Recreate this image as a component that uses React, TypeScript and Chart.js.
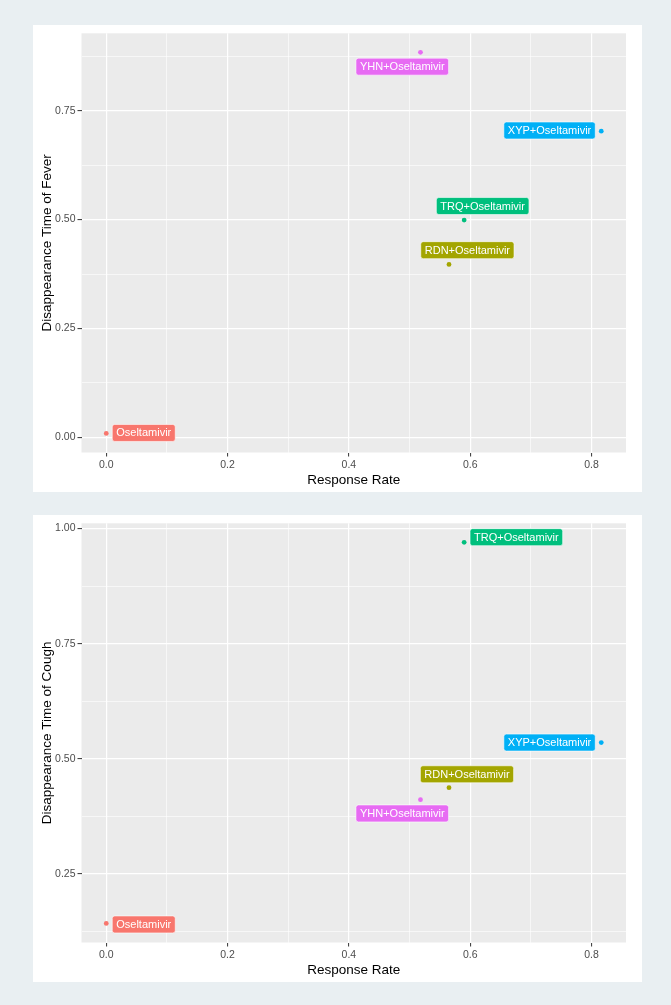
import React, { useEffect, useRef } from "react";
import { Chart, registerables } from "chart.js";

Chart.register(...registerables);

// ---------- data ----------
const categories = [
  "Oseltamivir",
  "RDN+Oseltamivir",
  "TRQ+Oseltamivir",
  "XYP+Oseltamivir",
  "YHN+Oseltamivir",
];
const responseRate = [0.0, 0.565, 0.59, 0.816, 0.518];
const feverTime = [0.009, 0.397, 0.499, 0.703, 0.884];
const coughTime = [0.142, 0.437, 0.97, 0.535, 0.411];

const xMajorTicks = [0, 0.2, 0.4, 0.6, 0.8];
const xMinorTicks = [0.1, 0.3, 0.5, 0.7];
const feverMajorTicks = [0, 0.25, 0.5, 0.75];
const feverMinorTicks = [0.125, 0.375, 0.625, 0.875];
const coughMajorTicks = [0.25, 0.5, 0.75, 1.0];
const coughMinorTicks = [0.125, 0.375, 0.625, 0.875];

// ---------- styles / layout ----------
const groupColors = ["#F8766D", "#A3A500", "#00BF7D", "#00B0F6", "#E76BF3"];
// label box centre offsets (px) relative to the point, mimicking ggrepel placement
const feverLabelOffsets = [
  [37.5, -0.5],
  [18.4, -14.3],
  [18.5, -14],
  [-51.7, -0.7],
  [-18.2, 14.3],
];
const coughLabelOffsets = [
  [37.5, 1],
  [18, -13.4],
  [52.2, -5.2],
  [-51.7, 0],
  [-18.2, 13.8],
];

const FONT = "'Liberation Sans', Arial, Helvetica, sans-serif";
const PANEL_W = 609;
const PANEL_H = 467;

function expandRange(values: number[]) {
  const mn = Math.min(...values);
  const mx = Math.max(...values);
  const pad = (mx - mn) * 0.05;
  return { min: mn - pad, max: mx + pad };
}

function buildTicks(major: number[], minor: number[]) {
  const all = [
    ...major.map((v) => ({ value: v, minor: false })),
    ...minor.map((v) => ({ value: v, minor: true })),
  ];
  all.sort((a, b) => a.value - b.value);
  return all;
}

const bgPlugin = {
  id: "panelBg",
  beforeDraw(chart: any) {
    const { ctx, chartArea } = chart;
    ctx.save();
    ctx.fillStyle = "#EBEBEB";
    ctx.fillRect(
      chartArea.left,
      chartArea.top,
      chartArea.right - chartArea.left,
      chartArea.bottom - chartArea.top
    );
    ctx.restore();
  },
};

function roundRect(ctx: CanvasRenderingContext2D, x: number, y: number, w: number, h: number, r: number) {
  ctx.beginPath();
  ctx.moveTo(x + r, y);
  ctx.lineTo(x + w - r, y);
  ctx.quadraticCurveTo(x + w, y, x + w, y + r);
  ctx.lineTo(x + w, y + h - r);
  ctx.quadraticCurveTo(x + w, y + h, x + w - r, y + h);
  ctx.lineTo(x + r, y + h);
  ctx.quadraticCurveTo(x, y + h, x, y + h - r);
  ctx.lineTo(x, y + r);
  ctx.quadraticCurveTo(x, y, x + r, y);
  ctx.closePath();
}

function makeLabelPlugin(offsets: number[][]) {
  return {
    id: "repelLabels",
    afterDatasetsDraw(chart: any) {
      const { ctx } = chart;
      const meta = chart.getDatasetMeta(0);
      ctx.save();
      ctx.font = `11px ${FONT}`;
      ctx.textAlign = "center";
      ctx.textBaseline = "middle";
      meta.data.forEach((pt: any, i: number) => {
        const text = categories[i];
        const tw = ctx.measureText(text).width;
        const w = tw + 8;
        const h = 17;
        const cx = pt.x + offsets[i][0];
        const cy = pt.y + offsets[i][1];
        roundRect(ctx, cx - w / 2, cy - h / 2, w, h, 2.5);
        ctx.fillStyle = groupColors[i];
        ctx.fill();
        ctx.lineWidth = 0.6;
        ctx.strokeStyle = "#ffffff";
        ctx.stroke();
        ctx.fillStyle = "#ffffff";
        ctx.fillText(text, cx, cy + 0.5);
      });
      ctx.restore();
    },
  };
}

function makeConfig(
  yValues: number[],
  yMajor: number[],
  yMinor: number[],
  yTitle: string,
  offsets: number[][]
): any {
  const xr = expandRange(responseRate);
  const yr = expandRange(yValues);
  const gridCommon = {
    color: "#ffffff",
    lineWidth: (c: any) => (c.tick && c.tick.minor ? 0.6 : 1.2),
    tickColor: (c: any) => (c.tick && c.tick.minor ? "rgba(0,0,0,0)" : "#333333"),
    tickWidth: 1,
    tickLength: 4,
    drawTicks: true,
    drawOnChartArea: true,
  };
  return {
    type: "scatter",
    data: {
      datasets: [
        {
          data: responseRate.map((x, i) => ({ x, y: yValues[i] })),
          pointBackgroundColor: groupColors,
          pointBorderColor: groupColors,
          pointBorderWidth: 0,
          pointRadius: 2.4,
          pointHoverRadius: 2.4,
        },
      ],
    },
    options: {
      responsive: false,
      animation: false,
      devicePixelRatio: 1,
      events: [],
      layout: { padding: { top: 7, right: 16, left: 0, bottom: 0 } },
      plugins: {
        legend: { display: false },
        tooltip: { enabled: false },
      },
      scales: {
        x: {
          type: "linear",
          min: xr.min,
          max: xr.max,
          afterBuildTicks: (s: any) => {
            s.ticks = buildTicks(xMajorTicks, xMinorTicks);
          },
          afterFit: (s: any) => {
            s.height = 39.5;
          },
          border: { display: false },
          grid: gridCommon,
          ticks: {
            autoSkip: false,
            maxRotation: 0,
            padding: 2,
            color: "#4D4D4D",
            font: { family: FONT, size: 10.5 },
            callback: (v: number, i: number, ticks: any[]) =>
              ticks[i] && ticks[i].minor ? "" : Number(v).toFixed(1),
          },
          title: {
            display: true,
            text: "Response Rate",
            color: "#000000",
            font: { family: FONT, size: 13.5 },
            padding: { top: 4, bottom: 4 },
          },
        },
        y: {
          type: "linear",
          min: yr.min,
          max: yr.max,
          afterBuildTicks: (s: any) => {
            s.ticks = buildTicks(yMajor, yMinor);
          },
          afterFit: (s: any) => {
            s.width = 48.5;
          },
          border: { display: false },
          grid: gridCommon,
          ticks: {
            autoSkip: false,
            padding: 2,
            color: "#4D4D4D",
            font: { family: FONT, size: 10.5 },
            callback: (v: number, i: number, ticks: any[]) =>
              ticks[i] && ticks[i].minor ? "" : Number(v).toFixed(2),
          },
          title: {
            display: true,
            text: yTitle,
            color: "#000000",
            font: { family: FONT, size: 13.5 },
            padding: { top: 6, bottom: 6 },
          },
        },
      },
    },
    plugins: [bgPlugin, makeLabelPlugin(offsets)],
  };
}

function Panel(props: {
  top: number;
  yValues: number[];
  yMajor: number[];
  yMinor: number[];
  yTitle: string;
  offsets: number[][];
}) {
  const ref = useRef<HTMLCanvasElement | null>(null);
  useEffect(() => {
    if (!ref.current) return;
    const chart = new Chart(
      ref.current,
      makeConfig(props.yValues, props.yMajor, props.yMinor, props.yTitle, props.offsets)
    );
    return () => chart.destroy();
  }, []);
  return (
    <div
      style={{
        position: "absolute",
        left: 33,
        top: props.top,
        width: PANEL_W,
        height: PANEL_H,
        background: "#ffffff",
      }}
    >
      <canvas
        ref={ref}
        width={PANEL_W}
        height={PANEL_H}
        style={{ display: "block", width: PANEL_W, height: PANEL_H }}
      />
    </div>
  );
}

export default function App() {
  useEffect(() => {
    document.body.style.margin = "0";
    document.body.style.background = "#E9EFF2";
  }, []);
  return (
    <div
      style={{
        position: "relative",
        width: 671,
        height: 1005,
        background: "#E9EFF2",
        overflow: "hidden",
      }}
    >
      <Panel
        top={25}
        yValues={feverTime}
        yMajor={feverMajorTicks}
        yMinor={feverMinorTicks}
        yTitle="Disappearance Time of Fever"
        offsets={feverLabelOffsets}
      />
      <Panel
        top={515}
        yValues={coughTime}
        yMajor={coughMajorTicks}
        yMinor={coughMinorTicks}
        yTitle="Disappearance Time of Cough"
        offsets={coughLabelOffsets}
      />
    </div>
  );
}
